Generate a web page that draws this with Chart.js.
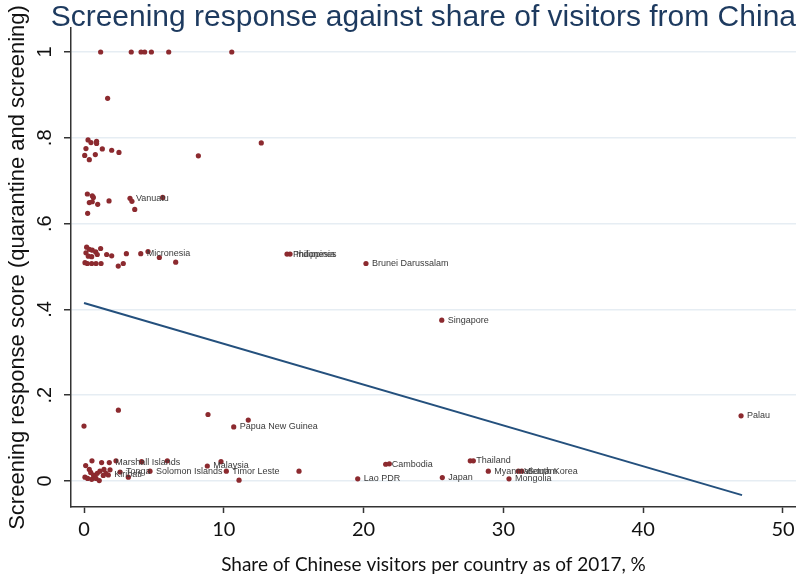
<!DOCTYPE html>
<html>
<head>
<meta charset="utf-8">
<script src="https://cdn.jsdelivr.net/npm/chart.js@4.4.1/dist/chart.umd.min.js"></script>
<style>
html,body{margin:0;padding:0;background:#ffffff;}
#wrap{width:796px;height:580px;}
</style>
</head>
<body>
<div id="wrap"><canvas id="c" width="796" height="580"></canvas></div>
<script>
// ---------- data ----------
const chartTitle = 'Screening response against share of visitors from China';
const xAxisTitle = 'Share of Chinese visitors per country as of 2017, %';
const yAxisTitle = 'Screening response score (quarantine and screening)';

const xTickValues = [0, 10, 20, 30, 40, 50];
const xTickLabels = ['0', '10', '20', '30', '40', '50'];
const yTickValues = [0, 0.2, 0.4, 0.6, 0.8, 1];
const yTickLabels = ['0', '.2', '.4', '.6', '.8', '1'];

// share of Chinese visitors (%)
const shareChina = [
  1.19, 3.38, 4.08, 4.34, 4.82, 6.06, 10.57,
  1.69,
  0.29, 0.50, 0.90, 0.90, 0.14, 1.31, 1.98, 2.50, 0.05, 0.81, 0.38, 8.18, 12.68,
  0.24, 0.59, 0.67, 0.38, 0.59, 0.98, 1.79, 3.29, 3.43, 5.63, 3.63, 0.26,
  0.19, 0.38, 0.59, 1.19, 0.84, 0.95, 0.14, 0.31, 0.55, 1.62, 1.98, 3.03, 4.06, 4.58, 5.39, 6.56, 0.07, 0.24, 0.55, 0.86, 1.22, 2.45, 2.81,
  14.52, 14.74, 20.17, 25.59,
  2.46, 0.00, 8.87, 11.75, 10.71, 47.00,
  0.57, 0.12, 0.38, 0.48, 0.07, 0.26, 0.55, 0.76, 0.95, 1.14, 1.26, 1.43, 1.57, 1.38, 1.74, 1.81, 1.86, 2.29, 0.67, 0.86, 1.09, 2.58, 3.17, 4.12, 4.72, 5.96,
  8.82, 9.80, 10.18, 11.09, 15.38,
  21.58, 21.84, 19.58, 25.63, 27.63, 27.85, 28.92, 31.07, 31.31, 30.40
];
// screening response score
const screeningScore = [
  1, 1, 1, 1, 1, 1, 1,
  0.892,
  0.795, 0.789, 0.792, 0.787, 0.775, 0.774, 0.771, 0.766, 0.759, 0.761, 0.749, 0.758, 0.788,
  0.669, 0.665, 0.661, 0.649, 0.651, 0.645, 0.653, 0.659, 0.652, 0.661, 0.633, 0.624,
  0.545, 0.540, 0.538, 0.542, 0.534, 0.528, 0.532, 0.524, 0.523, 0.528, 0.525, 0.530, 0.530, 0.535, 0.521, 0.510, 0.509, 0.507, 0.507, 0.507, 0.507, 0.501, 0.507,
  0.529, 0.529, 0.507, 0.375,
  0.165, 0.128, 0.155, 0.142, 0.126, 0.152,
  0.047, 0.036, 0.027, 0.020, 0.009, 0.006, 0.004, 0.010, 0.018, 0.023, 0.043, 0.027, 0.018, 0.013, 0.014, 0.043, 0.026, 0.047, 0.014, 0.006, 0.001, 0.021, 0.009, 0.045, 0.023, 0.047,
  0.035, 0.045, 0.023, 0.002, 0.023,
  0.039, 0.040, 0.005, 0.008, 0.047, 0.047, 0.023, 0.023, 0.023, 0.005
];
// country label shown next to a marker ('' = unlabelled)
const countryNames = [
  '', '', '', '', '', '', '',
  '',
  '', '', '', '', '', '', '', '', '', '', '', '', '',
  '', '', '', '', '', '', '', 'Vanuatu', '', '', '', '',
  '', '', '', '', '', '', '', '', '', '', '', '', 'Micronesia', '', '', '', '', '', '', '', '', '', '',
  'Philippines', 'Indonesia', 'Brunei Darussalam', 'Singapore',
  '', '', '', '', 'Papua New Guinea', 'Palau',
  '', '', '', '', '', '', '', '', '', '', '', '', '', '', 'Kiribati', 'Marshall Islands', '', '', '', '', '', 'Tonga', '', '', 'Solomon Islands', '',
  'Malaysia', '', 'Timor Leste', '', '',
  'Cambodia', '', 'Lao PDR', 'Japan', 'Thailand', '', 'Myanmar', 'Vietnam', 'South Korea', 'Mongolia'
];

// fitted line end points
const fitShare = [0, 47.07];
const fitScore = [0.415, -0.033];

// ---------- chart ----------
const scatterPoints = shareChina.map((x, i) => ({x: x, y: screeningScore[i]}));
const fitPoints = fitShare.map((x, i) => ({x: x, y: fitScore[i]}));

const pointLabelPlugin = {
  id: 'pointLabels',
  afterDatasetsDraw(chart) {
    const meta = chart.getDatasetMeta(1);
    const ctx = chart.ctx;
    ctx.save();
    ctx.font = '9px "Liberation Sans", Arial, sans-serif';
    ctx.fillStyle = '#3a3a3a';
    ctx.textAlign = 'left';
    ctx.textBaseline = 'middle';
    meta.data.forEach((el, i) => {
      const name = countryNames[i];
      if (name) ctx.fillText(name, el.x + 6, el.y);
    });
    ctx.restore();
  }
};

new Chart(document.getElementById('c'), {
  data: {
    datasets: [
      {
        type: 'line',
        data: fitPoints,
        borderColor: '#24507d',
        borderWidth: 2,
        pointRadius: 0,
        fill: false,
        order: 0
      },
      {
        type: 'scatter',
        data: scatterPoints,
        backgroundColor: '#8c2a2f',
        borderWidth: 0,
        pointRadius: 2.6,
        order: 1
      }
    ]
  },
  options: {
    responsive: false,
    animation: false,
    devicePixelRatio: 1,
    events: [],
    layout: {padding: 0, autoPadding: false},
    plugins: {
      legend: {display: false},
      tooltip: {enabled: false},
      title: {
        display: true,
        text: chartTitle,
        align: 'end',
        color: '#1d3a5f',
        font: {family: '"Liberation Sans", Arial, sans-serif', size: 30, weight: 'normal', lineHeight: '36px'},
        padding: {top: 0, bottom: -8}
      }
    },
    scales: {
      x: {
        type: 'linear',
        min: -0.93,
        max: 50.93,
        afterFit(s) { s.height = 73; s.paddingLeft = 0; s.paddingRight = 0; },
        afterBuildTicks(s) { s.ticks = xTickValues.map(v => ({value: v})); },
        border: {display: true, color: '#333333', width: 1.5},
        grid: {display: true, drawOnChartArea: false, drawTicks: true, tickLength: 6, tickColor: '#333333', tickWidth: 1.5},
        ticks: {
          color: '#111111',
          padding: 5,
          font: {family: 'Lato, "Open Sans", sans-serif', size: 20},
          callback: (v) => { const k = xTickValues.indexOf(v); return k >= 0 ? xTickLabels[k] : ''; }
        },
        title: {
          display: true,
          text: xAxisTitle,
          color: '#111111',
          font: {family: 'Lato, "Open Sans", sans-serif', size: 19},
          padding: {top: 0, bottom: 4}
        }
      },
      y: {
        type: 'linear',
        min: -0.0606,
        max: 1.056,
        afterFit(s) { s.width = 71; s.paddingTop = 0; s.paddingBottom = 0; },
        afterBuildTicks(s) { s.ticks = yTickValues.map(v => ({value: v})); },
        border: {display: true, color: '#333333', width: 1.5},
        grid: {display: true, drawOnChartArea: true, color: '#e6edf3', lineWidth: 1.5, drawTicks: true, tickLength: 7, tickColor: '#333333', tickWidth: 1.5},
        ticks: {
          color: '#111111',
          padding: 10,
          minRotation: 90,
          maxRotation: 90,
          crossAlign: 'center',
          font: {family: '"Liberation Sans", Arial, sans-serif', size: 20},
          callback: (v) => { const k = yTickValues.findIndex(t => Math.abs(t - v) < 1e-9); return k >= 0 ? yTickLabels[k] : ''; }
        },
        title: {
          display: true,
          text: yAxisTitle,
          color: '#111111',
          font: {family: '"Liberation Sans", Arial, sans-serif', size: 22},
          padding: {top: 5, bottom: 0}
        }
      }
    }
  },
  plugins: [pointLabelPlugin]
});
</script>
</body>
</html>
